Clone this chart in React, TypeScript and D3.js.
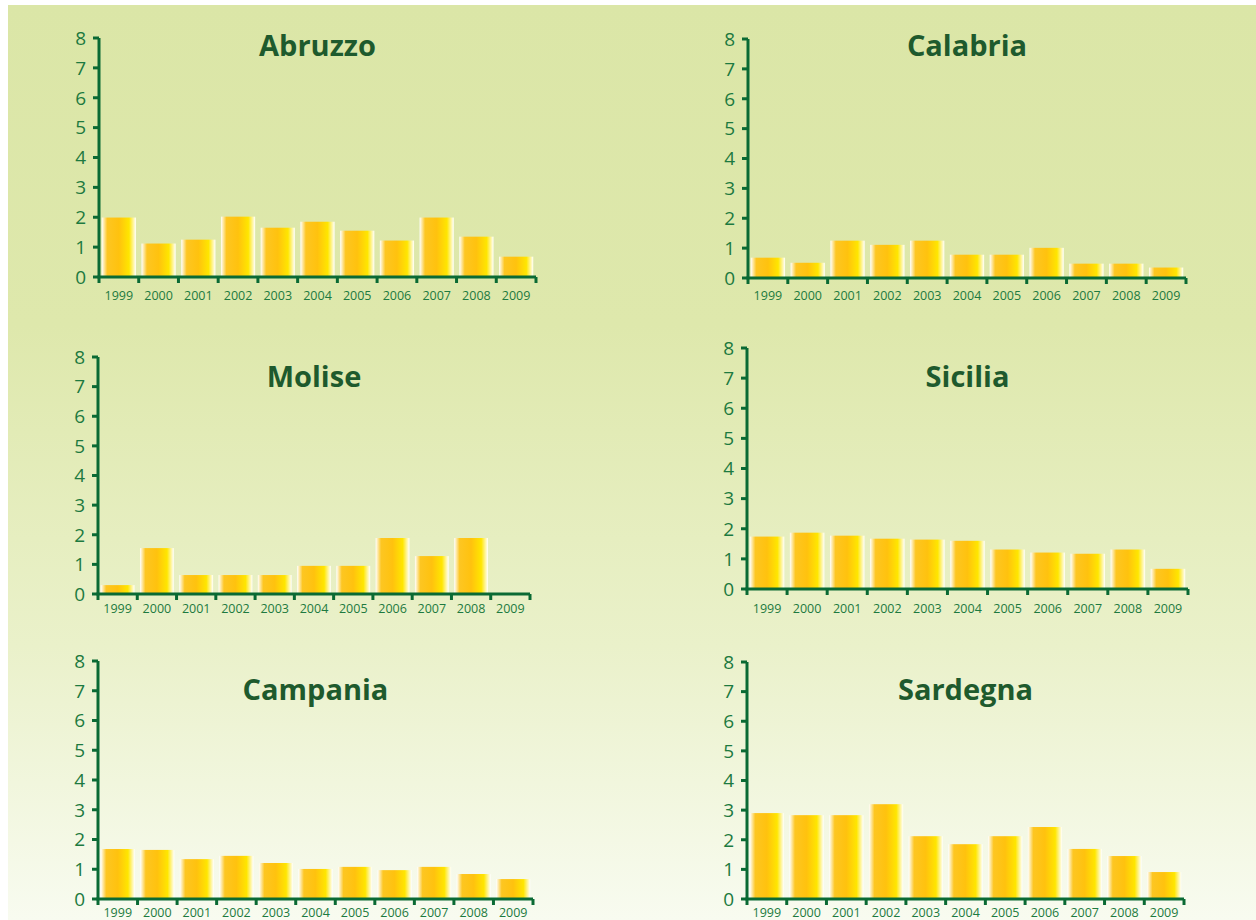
import React from "react";
import * as d3 from "d3";

const years = ["1999","2000","2001","2002","2003","2004","2005","2006","2007","2008","2009"];
const yTicks = [0,1,2,3,4,5,6,7,8];

const abruzzo = [1.99,1.12,1.25,2.02,1.65,1.85,1.55,1.22,1.99,1.35,0.68];
const calabria = [0.68,0.51,1.25,1.11,1.25,0.78,0.78,1.01,0.48,0.48,0.35];
const molise = [0.30,1.55,0.64,0.64,0.64,0.95,0.95,1.89,1.28,1.89,0];
const sicilia = [1.74,1.87,1.77,1.67,1.64,1.60,1.31,1.21,1.17,1.31,0.67];
const campania = [1.68,1.65,1.34,1.45,1.21,1.01,1.08,0.97,1.08,0.84,0.67];
const sardegna = [2.90,2.83,2.83,3.20,2.12,1.85,2.12,2.43,1.69,1.45,0.91];

const regionNames = ["Abruzzo","Calabria","Molise","Sicilia","Campania","Sardegna"];
const regionValues = [abruzzo, calabria, molise, sicilia, campania, sardegna];

// layout (pixels) per panel
const layout = [
  { x0: 99, x1: 536, yTop: 38, yBot: 277, titleY: 56, labelDy: 22.5 },
  { x0: 748, x1: 1186, yTop: 39, yBot: 278, titleY: 56, labelDy: 22 },
  { x0: 98, x1: 530, yTop: 357, yBot: 594, titleY: 387, labelDy: 19 },
  { x0: 747, x1: 1188, yTop: 348, yBot: 589, titleY: 387, labelDy: 23.5 },
  { x0: 98, x1: 533, yTop: 661, yBot: 899, titleY: 700, labelDy: 18 },
  { x0: 747, x1: 1184, yTop: 662, yBot: 899, titleY: 700, labelDy: 18 },
];

const AXIS = "#0a6a34";
const LABEL = "#1d7a40";
const TITLE = "#1e5a2d";
const FONT = "'Open Sans', 'Noto Sans', sans-serif";

function Panel({ name, values, l }: { name: string; values: number[]; l: any }) {
  const x = d3.scaleBand<string>().domain(years).range([l.x0, l.x1]).paddingInner(0.14).paddingOuter(0.07);
  const y = d3.scaleLinear().domain([0, 8]).range([l.yBot, l.yTop]);
  const step = x.step();
  const boundaries = d3.range(years.length + 1).map((i) => l.x0 + i * step);
  return (
    <g>
      <text x={(l.x0 + l.x1) / 2} y={l.titleY} textAnchor="middle" fontFamily={FONT} fontWeight={700} fontSize={29} fill={TITLE}>
        {name}
      </text>
      {values.map((v, i) =>
        v > 0 ? (
          <rect key={i} x={x(years[i])} y={y(v)} width={x.bandwidth()} height={y(0) - y(v)} fill="url(#barGrad)" />
        ) : null
      )}
      <line x1={l.x0} x2={l.x0} y1={l.yTop} y2={l.yBot} stroke={AXIS} strokeWidth={3} />
      <line x1={l.x0 - 1.5} x2={l.x1} y1={l.yBot} y2={l.yBot} stroke={AXIS} strokeWidth={3} />
      {yTicks.map((t) => (
        <g key={t}>
          <line x1={l.x0 - 6} x2={l.x0} y1={y(t)} y2={y(t)} stroke={AXIS} strokeWidth={3} />
          <text x={l.x0 - 13} y={y(t)} dy="0.36em" textAnchor="end" fontFamily={FONT} fontSize={19} fill={LABEL}>
            {t}
          </text>
        </g>
      ))}
      {boundaries.map((b, i) => (
        <line key={i} x1={b} x2={b} y1={l.yBot} y2={l.yBot + 6} stroke={AXIS} strokeWidth={3} />
      ))}
      {years.map((yr) => (
        <text key={yr} x={(x(yr) as number) + x.bandwidth() / 2} y={l.yBot + l.labelDy} textAnchor="middle" fontFamily={FONT} fontSize={12.5} fill={LABEL}>
          {yr}
        </text>
      ))}
    </g>
  );
}

export default function App() {
  return (
    <svg width={1256} height={920} style={{ position: "absolute", left: 0, top: 0, display: "block" }}>
      <defs>
        <linearGradient id="bgGrad" x1="0" y1="0" x2="0" y2="1">
          <stop offset="0" stopColor="#dbe6a7" />
          <stop offset="0.35" stopColor="#dee8ac" />
          <stop offset="0.7" stopColor="#eaf1ca" />
          <stop offset="1" stopColor="#f8fbf0" />
        </linearGradient>
        <linearGradient id="barGrad" x1="0" y1="0" x2="1" y2="0">
          <stop offset="0" stopColor="#ffffff" />
          <stop offset="0.16" stopColor="#fdc622" />
          <stop offset="0.5" stopColor="#ffc20e" />
          <stop offset="0.8" stopColor="#ffe600" />
          <stop offset="1" stopColor="#ffffff" />
        </linearGradient>
      </defs>
      <rect x={0} y={0} width={1256} height={920} fill="#ffffff" />
      <rect x={8} y={5} width={1248} height={915} fill="url(#bgGrad)" />
      {regionNames.map((n, i) => (
        <Panel key={n} name={n} values={regionValues[i]} l={layout[i]} />
      ))}
    </svg>
  );
}
